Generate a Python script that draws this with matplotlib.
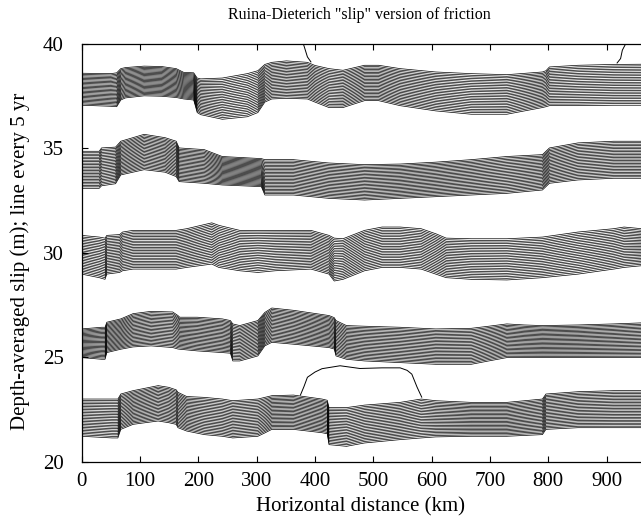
import matplotlib
matplotlib.use("Agg")
import matplotlib.pyplot as plt
import numpy as np

plt.rcParams['font.family'] = ['Liberation Serif', 'DejaVu Serif']

# slip bands: x (km), upper and lower edge (m)
band1_x = [0, 50, 60, 67, 75, 107, 137, 162, 175, 192, 198, 204, 241, 284, 302, 314, 326, 351,
           387, 400, 424, 448, 485, 509, 546, 607, 668, 729, 790, 796, 802, 851, 912, 960]
band1_top = [38.58, 38.56, 38.6, 38.8, 38.85, 38.92, 38.9, 38.8, 38.62, 38.6, 38.35, 38.31, 38.35,
             38.56, 38.7, 39.0, 39.1, 39.17, 39.1, 38.95, 38.8, 38.72, 38.96, 38.96, 38.8, 38.64,
             38.56, 38.51, 38.64, 38.7, 38.88, 38.96, 39.0, 39.01]
band1_bot = [37.05, 37.0, 36.98, 37.3, 37.4, 37.5, 37.48, 37.42, 37.35, 37.3, 36.7, 36.6, 36.38,
             36.5, 36.7, 37.2, 37.35, 37.38, 37.35, 37.2, 36.94, 36.94, 37.27, 37.27, 37.03, 36.78,
             36.62, 36.62, 36.94, 36.98, 37.03, 37.03, 37.05, 37.05]

band2_x = [0, 30, 34, 58, 67, 107, 143, 162, 167, 210, 241, 308, 314, 363, 424, 485, 546, 607,
           668, 729, 790, 802, 851, 912, 960]
band2_top = [34.85, 34.85, 35.01, 35.05, 35.33, 35.66, 35.5, 35.33, 35.01, 34.93, 34.6, 34.5, 34.45,
             34.45, 34.29, 34.21, 34.24, 34.33, 34.45, 34.6, 34.69, 35.01, 35.25, 35.33, 35.33]
band2_bot = [33.08, 33.08, 33.2, 33.3, 33.72, 33.97, 33.85, 33.64, 33.4, 33.32, 33.24, 33.16, 32.76,
             32.76, 32.6, 32.52, 32.6, 32.68, 32.76, 32.84, 33.0, 33.32, 33.48, 33.56, 33.56]

band3_x = [0, 30, 40, 43, 65, 70, 88, 162, 180, 223, 235, 271, 302, 332, 393, 424, 433, 448, 485,
           515, 546, 582, 607, 625, 668, 729, 790, 851, 912, 930, 960]
band3_top = [30.83, 30.75, 30.7, 30.83, 30.87, 30.99, 31.07, 31.07, 31.15, 31.43, 31.31, 31.07,
             31.07, 31.07, 31.07, 30.83, 30.7, 30.67, 31.07, 31.23, 31.23, 31.15, 30.91, 30.7,
             30.67, 30.67, 30.75, 30.99, 31.15, 31.23, 31.15]
band3_bot = [28.98, 28.81, 28.73, 28.98, 29.06, 29.14, 29.22, 29.22, 29.3, 29.46, 29.3, 29.14,
             29.06, 29.14, 29.22, 28.98, 28.65, 28.73, 29.14, 29.3, 29.3, 29.22, 28.98, 28.81,
             28.73, 28.7, 28.81, 28.98, 29.22, 29.3, 29.38]

band4_x = [0, 34, 40, 43, 67, 88, 119, 156, 165, 168, 198, 241, 255, 259, 271, 302, 314, 326, 363,
           424, 433, 436, 454, 485, 546, 607, 668, 698, 729, 759, 790, 851, 912, 960]
band4_top = [26.36, 26.44, 26.44, 26.68, 26.84, 27.09, 27.2, 27.17, 27.0, 26.92, 26.92, 26.84,
             26.76, 26.6, 26.52, 26.76, 27.15, 27.36, 27.25, 27.0, 26.9, 26.76, 26.52, 26.49,
             26.44, 26.36, 26.39, 26.49, 26.6, 26.55, 26.52, 26.55, 26.6, 26.65]
band4_bot = [24.99, 24.91, 24.91, 25.23, 25.39, 25.5, 25.55, 25.47, 25.4, 25.39, 25.31, 25.23,
             25.2, 24.83, 24.83, 25.07, 25.55, 25.72, 25.63, 25.47, 25.4, 25.07, 24.91, 24.83,
             24.75, 24.67, 24.67, 24.83, 24.99, 24.99, 24.99, 24.99, 24.99, 24.99]

band5_x = [0, 52, 62, 67, 88, 131, 149, 162, 165, 180, 210, 241, 259, 302, 314, 326, 363, 412,
           421, 424, 454, 485, 546, 582, 607, 668, 729, 790, 796, 851, 912, 960]
band5_top = [23.01, 23.01, 23.01, 23.25, 23.41, 23.65, 23.57, 23.45, 23.33, 23.13, 23.09, 23.01,
             22.93, 23.01, 23.09, 23.17, 23.2, 23.01, 22.95, 22.6, 22.6, 22.72, 22.85, 23.01,
             22.93, 22.85, 22.85, 23.01, 23.25, 23.36, 23.41, 23.41]
band5_bot = [21.23, 21.15, 21.15, 21.56, 21.8, 21.96, 21.88, 21.8, 21.64, 21.48, 21.31, 21.23,
             21.15, 21.23, 21.39, 21.56, 21.56, 21.4, 21.35, 20.83, 20.75, 20.91, 21.07, 21.15,
             21.2, 21.23, 21.23, 21.31, 21.56, 21.64, 21.64, 21.64]

# single contours that leave their band
lone_x = [375, 381, 387, 400, 412, 443, 477, 515, 546, 558, 566, 575, 583]
lone_y = [23.2, 23.6, 24.05, 24.3, 24.46, 24.6, 24.47, 24.5, 24.5, 24.38, 24.2, 23.58, 23.1]
top_left_x = [0, 370, 378, 381, 387, 393]
top_left_y = [40.6, 40.6, 40.1, 39.9, 39.36, 39.12]
top_right_x = [918, 924, 927, 933, 945, 960]
top_right_y = [39.07, 39.28, 39.68, 40.0, 40.3, 40.5]

n_lines = 26


def draw_band(ax, x, top, bot, n):
    top = np.asarray(top)
    bot = np.asarray(bot)
    for k in range(n):
        f = k / (n - 1)
        ax.plot(x, bot + f * (top - bot), color='black', lw=0.5, solid_joinstyle='miter')


fig = plt.figure(figsize=(6.41, 5.23), dpi=100)
ax = fig.add_axes([0.1275, 0.1166, 0.8725, 0.8002])

for bx, bt, bb in [(band1_x, band1_top, band1_bot),
                   (band2_x, band2_top, band2_bot),
                   (band3_x, band3_top, band3_bot),
                   (band4_x, band4_top, band4_bot),
                   (band5_x, band5_top, band5_bot)]:
    draw_band(ax, bx, bt, bb, n_lines)

ax.plot(lone_x, lone_y, color='black', lw=0.7)
ax.plot(top_left_x, top_left_y, color='black', lw=0.7)
ax.plot(top_right_x, top_right_y, color='black', lw=0.7)

ax.set_xlim(0, 959)
ax.set_ylim(20, 40)
ax.set_xticks(range(0, 1000, 100))
ax.set_yticks(range(20, 41, 5))
ax.tick_params(direction='in', length=4, width=0.8, top=True, labelsize=15)
ax.tick_params(axis='x', pad=7)
ax.tick_params(axis='y', pad=13)
ax.spines['right'].set_visible(False)
for s in ['left', 'bottom', 'top']:
    ax.spines[s].set_linewidth(0.9)

fig.text(0.56, 0.971, 'Ruina-Dieterich "slip" version of friction', ha='center', va='center', fontsize=11.5)
fig.text(0.562, 0.031, 'Horizontal distance (km)', ha='center', va='center', fontsize=15)
fig.text(0.032, 0.50, 'Depth-averaged slip (m); line every 5 yr', ha='center', va='center',
         rotation=90, fontsize=15)

fig.savefig('out.png', dpi=100)
